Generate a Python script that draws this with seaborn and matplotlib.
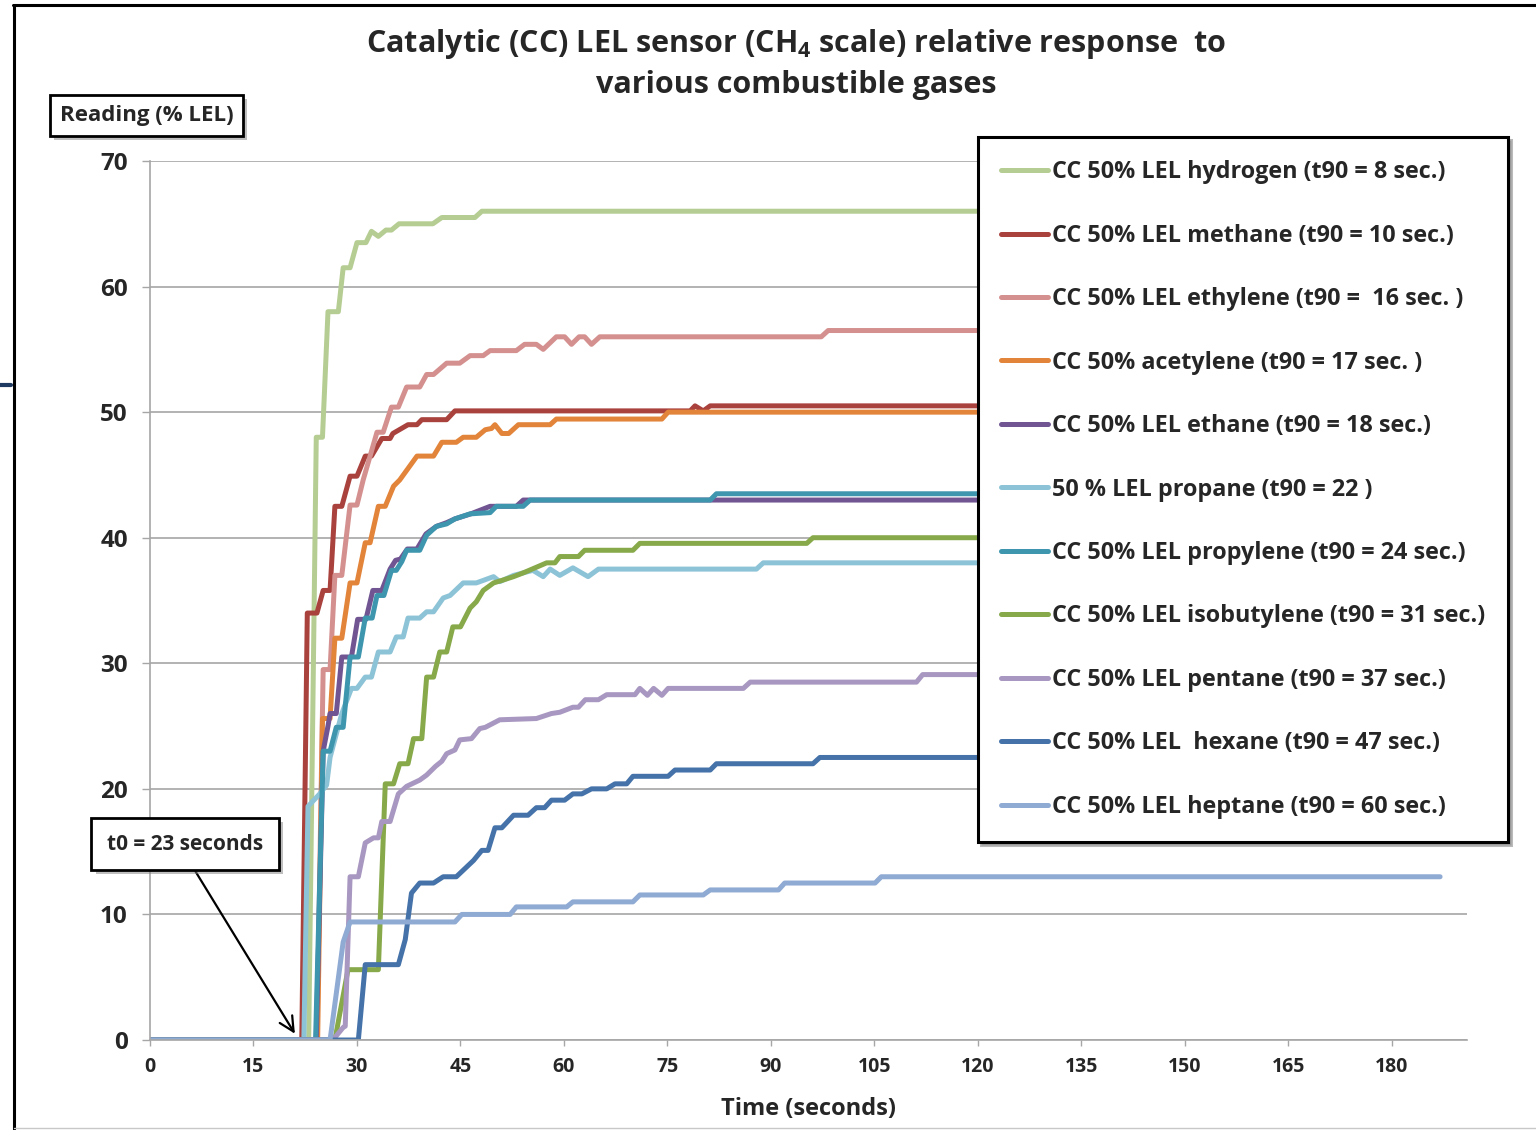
import matplotlib
matplotlib.use("Agg")
import matplotlib.pyplot as plt
import matplotlib.patheffects as pe
from matplotlib.lines import Line2D
import pandas as pd
import seaborn as sns

# readings (% LEL) vs time (s), corner points
hydrogen = [(0, 0), (23.0, 0), (24.1, 48.0), (25.0, 48.0), (25.8, 58.0), (27.3, 58.0), (28.0, 61.5),
            (29.0, 61.5), (30.0, 63.5), (31.3, 63.5), (32.1, 64.4), (33.1, 64.0), (34.2, 64.5),
            (35.0, 64.5), (36.1, 65.0), (41.0, 65.0), (42.3, 65.5), (47.1, 65.5), (48.1, 66.0), (187, 66.0)]
methane = [(0, 0), (22.0, 0), (22.8, 34.0), (24.2, 34.0), (25.1, 35.8), (26.1, 35.8), (26.8, 42.5),
           (27.8, 42.5), (29.0, 44.9), (30.0, 44.9), (31.2, 46.5), (32.1, 46.5), (33.6, 47.9), (34.8, 47.9),
           (35.2, 48.3), (37.4, 49.0), (38.7, 49.0), (39.4, 49.4), (43.0, 49.4), (44.2, 50.1), (78.3, 50.1),
           (79.0, 50.5), (80.2, 50.1), (81.2, 50.5), (187, 50.5)]
ethylene = [(0, 0), (24.2, 0), (25.1, 29.5), (26.1, 29.5), (26.8, 37.0), (27.8, 37.0), (29.0, 42.6),
            (30.0, 42.6), (30.9, 44.6), (32.9, 48.4), (33.8, 48.4), (35.0, 50.4), (36.0, 50.4), (37.2, 52.0),
            (39.1, 52.0), (40.1, 53.0), (41.1, 53.0), (43.0, 53.9), (44.9, 53.9), (46.4, 54.5), (48.3, 54.5),
            (49.3, 54.9), (53.1, 54.9), (54.3, 55.4), (56.0, 55.4), (57.0, 55.0), (58.9, 56.0), (60.1, 56.0),
            (61.1, 55.4), (62.2, 56.0), (63.0, 56.0), (64.0, 55.4), (65.2, 56.0), (97.3, 56.0), (98.3, 56.5),
            (187, 56.5)]
acetylene = [(0, 0), (24.3, 0), (25.0, 25.6), (26.1, 25.6), (26.8, 32.0), (27.8, 32.0), (29.0, 36.4),
             (30.0, 36.4), (31.2, 39.6), (31.9, 39.6), (33.1, 42.5), (34.1, 42.5), (35.3, 44.1), (36.2, 44.6),
             (38.7, 46.5), (41.1, 46.5), (42.3, 47.6), (44.4, 47.6), (45.4, 48.0), (47.3, 48.0), (48.6, 48.6),
             (49.5, 48.7), (50.0, 49.0), (51.0, 48.3), (52.0, 48.3), (53.4, 49.0), (58.0, 49.0), (58.9, 49.45),
             (74.2, 49.45), (75.1, 50.0), (187, 50.0)]
ethane = [(0, 0), (24.1, 0), (25.1, 23.0), (25.8, 25.0), (26.1, 26.0), (27.0, 26.0), (27.8, 30.5),
          (29.2, 30.5), (30.1, 33.5), (31.3, 33.5), (32.3, 35.8), (33.6, 35.8), (34.8, 37.5), (35.6, 38.2),
          (36.3, 38.3), (37.3, 39.1), (38.7, 39.1), (40.0, 40.3), (41.5, 40.9), (43.0, 41.2), (44.2, 41.5),
          (46.5, 41.9), (49.3, 42.5), (53.1, 42.5), (54.1, 43.0), (187, 43.0)]
propane = [(0, 0), (22.3, 0), (22.9, 18.6), (24.6, 19.6), (25.6, 20.3), (26.1, 22.5), (27.8, 26.0),
           (29.2, 28.0), (30.0, 28.0), (31.2, 28.9), (32.1, 28.9), (33.1, 30.9), (34.8, 30.9), (35.7, 32.1),
           (36.7, 32.1), (37.4, 33.6), (39.1, 33.6), (40.1, 34.1), (41.1, 34.1), (42.5, 35.2), (43.5, 35.4),
           (45.4, 36.4), (47.3, 36.4), (49.8, 36.9), (50.7, 36.5), (52.7, 37.0), (55.5, 37.4), (57.0, 36.9),
           (58.0, 37.5), (59.4, 37.0), (61.3, 37.6), (63.5, 36.9), (65.0, 37.5), (87.9, 37.5), (88.9, 38.0),
           (187, 38.0)]
propylene = [(0, 0), (24.0, 0), (25.1, 23.0), (26.1, 23.0), (27.0, 24.9), (28.0, 24.9), (29.0, 30.5),
             (30.2, 30.5), (31.2, 33.6), (32.2, 33.6), (32.9, 35.4), (33.9, 35.4), (35.0, 37.4), (35.7, 37.4),
             (36.5, 38.1), (37.2, 39.0), (39.1, 39.0), (40.1, 40.2), (41.5, 40.9), (43.0, 41.1), (44.2, 41.5),
             (46.4, 41.9), (49.3, 42.0), (50.2, 42.5), (54.1, 42.5), (55.1, 43.0), (81.2, 43.0), (82.1, 43.5),
             (187, 43.5)]
isobutylene = [(0, 0), (26.8, 0), (28.7, 5.6), (33.1, 5.6), (34.1, 20.4), (35.3, 20.4), (36.2, 22.0),
               (37.4, 22.0), (38.2, 24.0), (39.4, 24.0), (40.1, 28.9), (41.1, 28.9), (42.0, 30.9), (43.0, 30.9),
               (43.9, 32.9), (45.0, 32.9), (46.4, 34.4), (47.3, 34.9), (48.3, 35.8), (49.8, 36.4), (51.0, 36.6),
               (52.7, 36.9), (54.1, 37.2), (55.8, 37.6), (57.5, 38.0), (58.7, 38.0), (59.4, 38.5), (62.1, 38.5),
               (63.0, 39.0), (70.0, 39.0), (71.0, 39.55), (95.2, 39.55), (96.1, 40.0), (187, 40.0)]
pentane = [(0, 0), (26.5, 0), (28.0, 1.0), (28.3, 1.1), (29.0, 13.0), (30.2, 13.0), (31.2, 15.7),
           (32.4, 16.1), (33.1, 16.1), (33.6, 17.4), (34.8, 17.4), (36.0, 19.6), (37.2, 20.2), (39.1, 20.7),
           (40.1, 21.1), (41.4, 21.8), (42.3, 22.2), (43.0, 22.8), (44.2, 23.1), (44.9, 23.9), (46.6, 24.0),
           (47.8, 24.8), (48.6, 24.9), (50.7, 25.5), (56.0, 25.6), (58.2, 26.0), (59.4, 26.1), (61.3, 26.5),
           (62.1, 26.5), (63.1, 27.1), (65.0, 27.1), (66.2, 27.5), (70.3, 27.5), (71.0, 28.0), (72.1, 27.45),
           (73.0, 28.0), (74.2, 27.45), (75.1, 28.0), (86.0, 28.0), (87.0, 28.5), (111.1, 28.5), (112.0, 29.1),
           (187, 29.1)]
hexane = [(0, 0), (30.2, 0), (31.2, 6.0), (36.0, 6.0), (37.0, 8.0), (37.9, 11.7), (39.1, 12.5), (41.1, 12.5),
          (42.5, 13.0), (44.4, 13.0), (46.9, 14.3), (48.1, 15.1), (49.0, 15.1), (50.0, 16.9), (51.0, 16.9),
          (52.7, 17.9), (54.8, 17.9), (56.0, 18.5), (57.2, 18.5), (58.2, 19.1), (60.1, 19.1), (61.3, 19.6),
          (62.6, 19.6), (64.0, 20.0), (66.2, 20.0), (67.4, 20.4), (69.1, 20.4), (70.0, 21.0), (75.1, 21.0),
          (76.1, 21.5), (81.2, 21.5), (82.1, 22.0), (96.1, 22.0), (97.1, 22.5), (187, 22.5)]
heptane = [(0, 0), (26.1, 0), (28.0, 7.8), (29.0, 9.4), (44.2, 9.4), (45.2, 10.0), (52.2, 10.0),
           (53.1, 10.6), (60.4, 10.6), (61.3, 11.0), (70.0, 11.0), (71.0, 11.55), (80.2, 11.55), (81.2, 11.95),
           (91.1, 11.95), (92.0, 12.5), (105.1, 12.5), (106.0, 13.0), (187, 13.0)]

series = [hydrogen, methane, ethylene, acetylene, ethane, propane, propylene, isobutylene, pentane, hexane, heptane]
labels = ["CC 50% LEL hydrogen (t90 = 8 sec.)",
          "CC 50% LEL methane (t90 = 10 sec.)",
          "CC 50% LEL ethylene (t90 =  16 sec. )",
          "CC 50% acetylene (t90 = 17 sec. )",
          "CC 50% LEL ethane (t90 = 18 sec.)",
          "50 % LEL propane (t90 = 22 )",
          "CC 50% LEL propylene (t90 = 24 sec.)",
          "CC 50% LEL isobutylene (t90 = 31 sec.)",
          "CC 50% LEL pentane (t90 = 37 sec.)",
          "CC 50% LEL  hexane (t90 = 47 sec.)",
          "CC 50% LEL heptane (t90 = 60 sec.)"]
colors = ["#B5CD93", "#A9413D", "#D4908E", "#E2843A", "#705592", "#8DC3D6",
          "#3E96AE", "#87A94A", "#A897C0", "#4472A9", "#8FAAD3"]
x_ticks = [0, 15, 30, 45, 60, 75, 90, 105, 120, 135, 150, 165, 180]
y_ticks = [0, 10, 20, 30, 40, 50, 60, 70]

rows = []
for lab, pts in zip(labels, series):
    for t, v in pts:
        rows.append({"gas": lab, "time": t, "reading": v})
df = pd.DataFrame(rows)

sns.set_style("white")
plt.rcParams["font.family"] = ["Open Sans", "DejaVu Sans"]
plt.rcParams["font.weight"] = "bold"
plt.rcParams["mathtext.default"] = "regular"

fig = plt.figure(figsize=(15.36, 11.3), dpi=100)
ax = fig.add_axes([150 / 1536, 1 - 1040 / 1130, 1317 / 1536, 879 / 1130])

sns.lineplot(data=df, x="time", y="reading", hue="gas", hue_order=labels, palette=colors,
             estimator=None, sort=False, lw=3.6, legend=False, ax=ax,
             solid_capstyle="round", solid_joinstyle="round")

grey = "#A6A6A6"
ax.set_xlim(0, 190.9)
ax.set_ylim(0, 70)
ax.set_xticks(x_ticks)
ax.set_yticks(y_ticks)
ax.yaxis.grid(True, color=grey, lw=1.2)
ax.xaxis.grid(False)
ax.set_axisbelow(True)
for s in ["top", "right"]:
    ax.spines[s].set_visible(False)
for s in ["left", "bottom"]:
    ax.spines[s].set_color(grey)
    ax.spines[s].set_linewidth(1.2)
ax.tick_params(axis="x", direction="out", length=4, width=1, color=grey, labelsize=14, pad=8, bottom=True)
ax.tick_params(axis="y", direction="out", length=6, width=1, color=grey, labelsize=17.5, pad=10, left=True)
ax.set_xlabel("Time (seconds)", fontsize=17, fontweight="bold", labelpad=15)
ax.set_ylabel("")

# legend
leg = ax.legend(ax.get_lines()[:len(labels)], labels, loc="upper left",
                bbox_to_anchor=(978 / 1536, 1 - 137 / 1130), bbox_transform=fig.transFigure,
                fontsize=16.8, labelspacing=1.69, borderpad=1.0, handlelength=2.0, handletextpad=0.15,
                borderaxespad=0, frameon=True, fancybox=False, edgecolor="black",
                shadow={"color": "0.55", "alpha": 0.6})
leg.get_frame().set_linewidth(2.2)
for h in leg.get_lines():
    h.set_linewidth(3.6)

shadow = [pe.SimplePatchShadow(offset=(3, -3), shadow_rgbFace="0.5", alpha=0.5), pe.Normal()]

# annotation for t0
ann = ax.annotate("t0 = 23 seconds", xy=(21.0, 0.5), xytext=(5.1, 15.6), textcoords="data",
                  ha="center", va="center", fontsize=15, fontweight="bold", annotation_clip=False,
                  bbox=dict(boxstyle="square,pad=0.75", fc="white", ec="black", lw=2),
                  arrowprops=dict(arrowstyle="->,head_length=0.7,head_width=0.35", color="black",
                                  lw=1.6, relpos=(0.5, 0), shrinkA=0, shrinkB=0))
ann.get_bbox_patch().set_path_effects(shadow)

# y axis caption box
ylab = fig.text(146.5 / 1536, 1 - 115 / 1130, "Reading (% LEL)", ha="center", va="center",
                fontsize=16, fontweight="bold",
                bbox=dict(boxstyle="square,pad=0.45", fc="white", ec="black", lw=2))
ylab.get_bbox_patch().set_path_effects(shadow)

# title
fig.text(796 / 1536, 1 - 52 / 1130, "Catalytic (CC) LEL sensor (CH$_4$ scale) relative response  to",
         ha="center", va="baseline", fontsize=22, fontweight="bold")
fig.text(796 / 1536, 1 - 93.5 / 1130, "various combustible gases",
         ha="center", va="baseline", fontsize=22, fontweight="bold")

# outer frame of the pasted chart
fig.add_artist(Line2D([13 / 1536, 1], [1 - 5 / 1130, 1 - 5 / 1130], color="black", lw=2.2))
fig.add_artist(Line2D([14 / 1536, 14 / 1536], [0, 1 - 5 / 1130], color="black", lw=2.2))
fig.add_artist(Line2D([14 / 1536, 1], [1 - 1128 / 1130, 1 - 1128 / 1130], color="#C8C8C8", lw=1))
fig.add_artist(Line2D([0, 11 / 1536], [1 - 385 / 1130, 1 - 385 / 1130], color="#1F3A60", lw=3))

plt.savefig("out.png", dpi=100)
